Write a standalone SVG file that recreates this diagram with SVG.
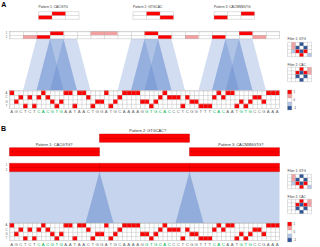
<svg xmlns="http://www.w3.org/2000/svg" width="320" height="247" viewBox="0 0 320 247">
<style>
text{font-family:"Liberation Sans",Arial,sans-serif}
.pl{font-size:7px;font-weight:bold;fill:#000}
.lbA{font-size:3.3px;fill:#333}
.lbB{font-size:3.9px;fill:#333}
.seq{font-size:4.3px;fill:#666;text-anchor:middle}
.gr{fill:#00b050}
.rl{font-size:2.7px;fill:#555;text-anchor:middle}
.fl{font-size:3.2px;fill:#333}
.cb{font-size:2.8px;fill:#333}
.r{fill:#ff0000}
.pk{fill:#f4a0a0}
.lb{fill:#b4c7e7}
.db{fill:#2f5597}
.wh{fill:#fff}
.ln{fill:none;stroke:#a6a6a6;stroke-width:0.35}
.dr{fill:none;stroke:#b00000;stroke-width:0.4}
.sh{fill:#4472c4;fill-opacity:0.24}
.shB{fill:#4472c4;fill-opacity:0.3}
.trB{fill:#4472c4;fill-opacity:0.4}
</style>
<defs>
<pattern id="sgrid" x="9.5" y="0" width="4.5" height="4.4" patternUnits="userSpaceOnUse"><path d="M0 0H4.5M0 0V4.4" fill="none" stroke="#a6a6a6" stroke-width="0.7"/></pattern>
<pattern id="lgrid" x="9.5" y="31.3" width="13.5" height="3.8" patternUnits="userSpaceOnUse"><path d="M0 0H13.5M0 0V3.8" fill="none" stroke="#a6a6a6" stroke-width="0.7"/></pattern>
<g id="seq">
<rect class="wh" x="9.5" y="0" width="270" height="17.6"/>
<path class="r" d="M9.5 0h4.5v4.4h-4.5zM41 0h4.5v4.4h-4.5zM63.5 0h9v4.4h-9zM77 0h9v4.4h-9zM104 0h4.5v4.4h-4.5zM122 0h18v4.4h-18zM162.5 0h4.5v4.4h-4.5zM216.5 0h4.5v4.4h-4.5zM225.5 0h9v4.4h-9zM266 0h13.5v4.4h-13.5z
M18.5 4.4h4.5v4.4h-4.5zM27.5 4.4h4.5v4.4h-4.5zM36.5 4.4h4.5v4.4h-4.5zM45.5 4.4h4.5v4.4h-4.5zM86 4.4h4.5v4.4h-4.5zM117.5 4.4h4.5v4.4h-4.5zM158 4.4h4.5v4.4h-4.5zM167 4.4h13.5v4.4h-13.5zM185 4.4h4.5v4.4h-4.5zM212 4.4h4.5v4.4h-4.5zM221 4.4h4.5v4.4h-4.5zM252.5 4.4h9v4.4h-9z
M14 8.8h4.5v4.4h-4.5zM50 8.8h4.5v4.4h-4.5zM59 8.8h4.5v4.4h-4.5zM95 8.8h9v4.4h-9zM113 8.8h4.5v4.4h-4.5zM140 8.8h9v4.4h-9zM153.5 8.8h4.5v4.4h-4.5zM189.5 8.8h9v4.4h-9zM239 8.8h4.5v4.4h-4.5zM248 8.8h4.5v4.4h-4.5zM261.5 8.8h4.5v4.4h-4.5z
M23 13.2h4.5v4.4h-4.5zM32 13.2h4.5v4.4h-4.5zM54.5 13.2h4.5v4.4h-4.5zM72.5 13.2h4.5v4.4h-4.5zM90.5 13.2h4.5v4.4h-4.5zM108.5 13.2h4.5v4.4h-4.5zM149 13.2h4.5v4.4h-4.5zM180.5 13.2h4.5v4.4h-4.5zM198.5 13.2h13.5v4.4h-13.5zM234.5 13.2h4.5v4.4h-4.5zM243.5 13.2h4.5v4.4h-4.5z"/>
<rect x="9.5" y="0" width="270" height="17.6" fill="url(#sgrid)"/>
<rect class="ln" x="9.5" y="0" width="270" height="17.6"/>
<text class="rl" x="6.5" y="3.2">A</text>
<text class="rl" x="6.5" y="7.6">C</text>
<text class="rl" x="6.5" y="12">G</text>
<text class="rl" x="6.5" y="16.4">T</text>
<text class="seq" y="22.9" x="11.75 16.25 20.75 25.25 29.75 34.25 38.75 43.25 47.75 52.25 56.75 61.25 65.75 70.25 74.75 79.25 83.75 88.25 92.75 97.25 101.75 106.25 110.75 115.25 119.75 124.25 128.75 133.25 137.75 142.25 146.75 151.25 155.75 160.25 164.75 169.25 173.75 178.25 182.75 187.25 191.75 196.25 200.75 205.25 209.75 214.25 218.75 223.25 227.75 232.25 236.75 241.25 245.75 250.25 254.75 259.25 263.75 268.25 272.75 277.25">AGCTCT<tspan class="gr">CACGTG</tspan>AATAACTGGATGCAAAAG<tspan class="gr">GTGCAC</tspan>CCTCGGTTT<tspan class="gr">CAC</tspan>AAT<tspan class="gr">GTG</tspan>CCGAAA</text>
</g>
<g id="legend">
<text class="fl" x="287.5" y="40.3">Filter 1: GTG</text>
<rect class="pk" x="291.5" y="42.3" width="4" height="3.6"/>
<rect class="db" x="299.5" y="42.3" width="4" height="3.6"/>
<rect class="pk" x="291.5" y="45.9" width="4" height="3.6"/>
<rect class="db" x="295.5" y="45.9" width="4" height="3.6"/>
<rect class="db" x="303.5" y="45.9" width="4" height="3.6"/>
<rect class="lb" x="291.5" y="49.5" width="4" height="3.6"/>
<rect class="r" x="295.5" y="49.5" width="4" height="3.6"/>
<rect class="db" x="299.5" y="49.5" width="4" height="3.6"/>
<rect class="r" x="303.5" y="49.5" width="4" height="3.6"/>
<rect class="r" x="299.5" y="53.1" width="4" height="3.6"/>
<rect class="lb" x="307.5" y="53.1" width="4" height="3.6"/>
<path class="ln" d="M287.5 42.3h24M287.5 45.9h24M287.5 49.5h24M287.5 53.1h24M287.5 56.7h24M287.5 42.3v14.4M291.5 42.3v14.4M295.5 42.3v14.4M299.5 42.3v14.4M303.5 42.3v14.4M307.5 42.3v14.4M311.5 42.3v14.4"/>
<text class="fl" x="287.5" y="65.5">Filter 2: CAC</text>
<rect class="r" x="299.5" y="67.3" width="4" height="3.6"/>
<rect class="pk" x="307.5" y="67.3" width="4" height="3.6"/>
<rect class="r" x="295.5" y="70.9" width="4" height="3.6"/>
<rect class="db" x="299.5" y="70.9" width="4" height="3.6"/>
<rect class="r" x="303.5" y="70.9" width="4" height="3.6"/>
<rect class="pk" x="307.5" y="70.9" width="4" height="3.6"/>
<rect class="db" x="295.5" y="74.5" width="4" height="3.6"/>
<rect class="db" x="303.5" y="74.5" width="4" height="3.6"/>
<rect class="db" x="299.5" y="78.1" width="4" height="3.6"/>
<path class="ln" d="M287.5 67.3h24M287.5 70.9h24M287.5 74.5h24M287.5 78.1h24M287.5 81.7h24M287.5 67.3v14.4M291.5 67.3v14.4M295.5 67.3v14.4M299.5 67.3v14.4M303.5 67.3v14.4M307.5 67.3v14.4M311.5 67.3v14.4"/>
<rect class="r" x="287.5" y="90" width="4.3" height="4"/>
<rect class="pk" x="287.5" y="94" width="4.3" height="4"/>
<rect class="wh" x="287.5" y="98" width="4.3" height="4"/>
<rect class="lb" x="287.5" y="102" width="4.3" height="4"/>
<rect class="db" x="287.5" y="106" width="4.3" height="4"/>
<path class="ln" d="M287.5 90h4.3v20h-4.3zM287.5 94h4.3M287.5 98h4.3M287.5 102h4.3M287.5 106h4.3"/>
<text class="cb" x="293.5" y="93.1">1</text>
<text class="cb" x="293.5" y="101.1">0</text>
<text class="cb" x="293.5" y="109.1">-1</text>
</g>
</defs>

<g id="panelA">
<text class="pl" x="1.2" y="6.8">A</text>
<g id="A-pattern1">
<rect class="wh" x="38.5" y="11.7" width="40.5" height="7.6"/>
<rect class="r" x="52" y="11.7" width="13.5" height="3.8"/>
<rect class="r" x="38.5" y="15.5" width="13.5" height="3.8"/>
<path class="ln" d="M38.5 11.7h40.5v7.6h-40.5zM38.5 15.5h40.5M52 11.7v7.6M65.5 11.7v7.6"/>
<text class="lbA" x="38.5" y="7.6">Pattern 1: CACGTG</text>
</g>
<g id="A-pattern2">
<rect class="wh" x="133" y="11.7" width="40.5" height="7.6"/>
<rect class="r" x="146.5" y="11.7" width="13.5" height="3.8"/>
<rect class="r" x="160" y="15.5" width="13.5" height="3.8"/>
<path class="ln" d="M133 11.7h40.5v7.6h-40.5zM133 15.5h40.5M146.5 11.7v7.6M160 11.7v7.6"/>
<text class="lbA" x="133" y="7.6">Pattern 2: GTGCAC</text>
</g>
<g id="A-pattern3">
<rect class="wh" x="214" y="11.7" width="40.5" height="7.6"/>
<rect class="r" x="241" y="11.7" width="13.5" height="3.8"/>
<rect class="r" x="214" y="15.5" width="13.5" height="3.8"/>
<path class="ln" d="M214 11.7h40.5v7.6h-40.5zM214 15.5h40.5M227.5 11.7v7.6M241 11.7v7.6"/>
<text class="lbA" x="214" y="7.6">Pattern 3: CACNNNGTG</text>
</g>
<g id="A-layer">
<rect class="wh" x="9.5" y="31.3" width="270" height="7.6"/>
<rect class="r" x="50" y="31.3" width="13.5" height="3.8"/>
<rect class="r" x="144.5" y="31.3" width="13.5" height="3.8"/>
<rect class="r" x="239" y="31.3" width="13.5" height="3.8"/>
<rect class="pk" x="90.5" y="31.3" width="27" height="3.8"/>
<rect class="r" x="36.5" y="35.1" width="13.5" height="3.8"/>
<rect class="r" x="158" y="35.1" width="13.5" height="3.8"/>
<rect class="r" x="212" y="35.1" width="13.5" height="3.8"/>
<rect class="pk" x="23" y="35.1" width="13.5" height="3.8"/>
<rect class="pk" x="185" y="35.1" width="13.5" height="3.8"/>
<rect class="pk" x="252.5" y="35.1" width="13.5" height="3.8"/>
<rect x="9.5" y="31.3" width="270" height="7.6" fill="url(#lgrid)"/>
<rect class="ln" x="9.5" y="31.3" width="270" height="7.6"/>
<text class="rl" x="6.5" y="34.3">1</text>
<text class="rl" x="6.5" y="38.1">2</text>
</g>
<g id="A-connectors">
<polygon class="sh" points="36.5,38.9 63.5,38.9 77,90.6 23,90.6"/>
<polygon class="sh" points="50,38.9 77,38.9 90.5,90.6 36.5,90.6"/>
<polygon class="sh" points="50,38.9 63.5,90.6 36.5,90.6"/>
<polygon class="sh" points="63.5,38.9 77,90.6 50,90.6"/>
<polygon class="sh" points="131,38.9 158,38.9 171.5,90.6 117.5,90.6"/>
<polygon class="sh" points="144.5,38.9 171.5,38.9 185,90.6 131,90.6"/>
<polygon class="sh" points="144.5,38.9 158,90.6 131,90.6"/>
<polygon class="sh" points="158,38.9 171.5,90.6 144.5,90.6"/>
<polygon class="sh" points="212,38.9 239,38.9 252.5,90.6 198.5,90.6"/>
<polygon class="sh" points="225.5,38.9 252.5,38.9 266,90.6 212,90.6"/>
<polygon class="sh" points="225.5,38.9 239,90.6 212,90.6"/>
<polygon class="sh" points="239,38.9 252.5,90.6 225.5,90.6"/>
</g>
<g id="A-sequence"><use href="#seq" y="90.6"/></g>
<g id="A-filters"><use href="#legend"/></g>
</g>

<g id="panelB">
<text class="pl" x="1" y="131.2">B</text>
<g id="B-pattern1">
<rect class="r" x="9.5" y="147.7" width="90" height="8.3"/>
<path class="dr" d="M9.5 147.7h90v8.3h-90zM9.5 151.85h90"/>
<text class="lbB" x="35.7" y="146">Pattern 1: CACGTG?</text>
</g>
<g id="B-pattern2">
<rect class="r" x="99.5" y="134" width="90" height="8.3"/>
<path class="dr" d="M99.5 134h90v8.3h-90zM99.5 138.15h90"/>
<text class="lbB" x="129.3" y="132.3">Pattern 2: GTGCAC?</text>
</g>
<g id="B-pattern3">
<rect class="r" x="189.5" y="147.7" width="90" height="8.3"/>
<path class="dr" d="M189.5 147.7h90v8.3h-90zM189.5 151.85h90"/>
<text class="lbB" x="218.3" y="146">Pattern 3: CACNNNGTG?</text>
</g>
<g id="B-layer">
<rect class="r" x="9.5" y="163.3" width="270" height="8.4"/>
<path class="dr" d="M9.5 163.3h270v8.4h-270zM9.5 167.5h270M99.5 163.3v8.4M189.5 163.3v8.4"/>
<text class="rl" x="6.5" y="166.4">1</text>
<text class="rl" x="6.5" y="170.6">2</text>
</g>
<g id="B-connectors">
<rect class="shB" x="9.5" y="171.7" width="270" height="51.3"/>
<polygon class="trB" points="99.5,171.7 113.5,223 85.5,223"/>
<polygon class="trB" points="189.5,171.7 203.5,223 175.5,223"/>
</g>
<g id="B-sequence"><use href="#seq" y="223"/></g>
<g id="B-filters"><use href="#legend" transform="translate(0,132)"/></g>
</g>
</svg>
